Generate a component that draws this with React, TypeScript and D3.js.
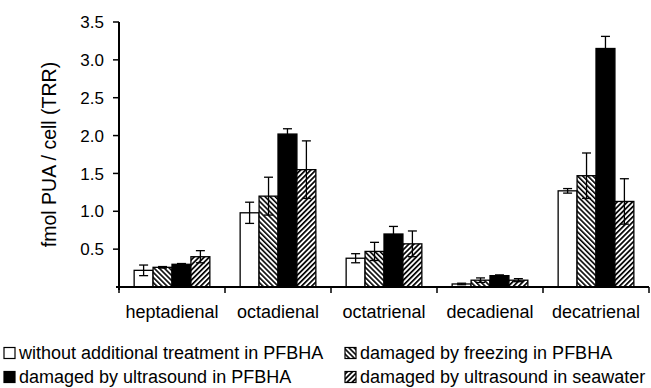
import React from "react";
import * as d3 from "d3";

const categories = ["heptadienal", "octadienal", "octatrienal", "decadienal", "decatrienal"];
const seriesNames = [
  "without additional treatment in PFBHA",
  "damaged by freezing in PFBHA",
  "damaged by ultrasound in PFBHA",
  "damaged by ultrasound in seawater",
];
// mean values per series, ordered as categories
const untreated = [0.22, 0.98, 0.38, 0.04, 1.27];
const freezing = [0.26, 1.2, 0.47, 0.09, 1.47];
const ultrasoundPFBHA = [0.3, 2.02, 0.7, 0.15, 3.15];
const ultrasoundSeawater = [0.4, 1.55, 0.57, 0.09, 1.13];
// standard deviations
const untreatedErr = [0.07, 0.14, 0.06, 0.01, 0.03];
const freezingErr = [0.01, 0.25, 0.12, 0.03, 0.3];
const ultrasoundPFBHAErr = [0.01, 0.07, 0.1, 0.01, 0.16];
const ultrasoundSeawaterErr = [0.08, 0.38, 0.17, 0.02, 0.3];
const yTicks = [0.5, 1.0, 1.5, 2.0, 2.5, 3.0, 3.5];

const values = [untreated, freezing, ultrasoundPFBHA, ultrasoundSeawater];
const errors = [untreatedErr, freezingErr, ultrasoundPFBHAErr, ultrasoundSeawaterErr];
const fills = ["#ffffff", "url(#hatchBack)", "#000000", "url(#hatchFwd)"];

const W = 651;
const H = 388;
const left = 119;
const right = 649;
const top = 22;
const bottom = 287;
const font = "'Liberation Sans', Arial, Helvetica, sans-serif";

export default function App() {
  const x = d3.scaleBand<string>().domain(categories).range([left, right]).padding(0);
  const inner = d3
    .scaleBand<number>()
    .domain(d3.range(seriesNames.length))
    .range([0, x.bandwidth()])
    .paddingInner(0)
    .paddingOuter(0.8);
  const y = d3.scaleLinear().domain([0, 3.5]).range([bottom, top]);
  const bw = inner.bandwidth();
  const cap = 4.5;

  return (
    <svg width={W} height={H} style={{ position: "absolute", left: 0, top: 0, background: "#fff" }}>
      <defs>
        <pattern id="hatchBack" patternUnits="userSpaceOnUse" width={3.6} height={3.6} patternTransform="rotate(-45)">
          <rect width={3.6} height={3.6} fill="#fff" />
          <rect x={0} y={0} width={1.6} height={3.6} fill="#000" />
        </pattern>
        <pattern id="hatchFwd" patternUnits="userSpaceOnUse" width={3.6} height={3.6} patternTransform="rotate(45)">
          <rect width={3.6} height={3.6} fill="#fff" />
          <rect x={0} y={0} width={1.7} height={3.6} fill="#000" />
        </pattern>
      </defs>

      {/* bars */}
      {categories.map((c, ci) => (
        <g key={c} transform={`translate(${x(c)},0)`}>
          {values.map((vals, si) => (
            <rect
              key={si}
              x={inner(si)}
              y={y(vals[ci])}
              width={bw}
              height={y(0) - y(vals[ci])}
              fill={fills[si]}
              stroke="#000"
              strokeWidth={1.3}
            />
          ))}
          {values.map((vals, si) => {
            const cx = (inner(si) as number) + bw / 2;
            const hi = y(vals[ci] + errors[si][ci]);
            const lo = y(vals[ci] - errors[si][ci]);
            return (
              <g key={"e" + si} stroke="#000" strokeWidth={1.3}>
                <line x1={cx} x2={cx} y1={hi} y2={lo} />
                <line x1={cx - cap} x2={cx + cap} y1={hi} y2={hi} />
                <line x1={cx - cap} x2={cx + cap} y1={lo} y2={lo} />
              </g>
            );
          })}
        </g>
      ))}

      {/* y axis */}
      <line x1={left} x2={left} y1={top} y2={bottom + 3} stroke="#000" strokeWidth={2} />
      {yTicks.map((t) => (
        <g key={t}>
          <line x1={left - 6} x2={left} y1={y(t)} y2={y(t)} stroke="#000" strokeWidth={1.5} />
          <text
            x={left - 15}
            y={y(t)}
            dy="0.36em"
            textAnchor="end"
            fontFamily={font}
            fontSize={17}
          >
            {t.toFixed(1)}
          </text>
        </g>
      ))}
      <text
        transform={`translate(56,${(top + bottom) / 2}) rotate(-90)`}
        textAnchor="middle"
        fontFamily={font}
        fontSize={19.5}
      >
        fmol PUA / cell (TRR)
      </text>

      {/* x axis */}
      <line x1={left - 3} x2={right} y1={bottom} y2={bottom} stroke="#000" strokeWidth={2} />
      {[...categories.map((c) => x(c) as number), right].map((px, i) => (
        <line key={i} x1={px} x2={px} y1={bottom} y2={bottom + 6} stroke="#000" strokeWidth={1.5} />
      ))}
      {categories.map((c) => (
        <text
          key={c}
          x={(x(c) as number) + x.bandwidth() / 2}
          y={318}
          textAnchor="middle"
          fontFamily={font}
          fontSize={18}
        >
          {c}
        </text>
      ))}

      {/* legend */}
      {seriesNames.map((name, si) => {
        const col = si === 0 || si === 2 ? 0 : 1;
        const row = si < 2 ? 0 : 1;
        const lx = col === 0 ? 4 : 345;
        const ly = row === 0 ? 353 : 377;
        return (
          <g key={name}>
            <rect x={lx} y={ly - 5.5} width={11} height={11} fill={fills[si]} stroke="#000" strokeWidth={1.2} />
            <text x={lx + 15} y={ly} dy="0.36em" fontFamily={font} fontSize={18}>
              {name}
            </text>
          </g>
        );
      })}
    </svg>
  );
}
